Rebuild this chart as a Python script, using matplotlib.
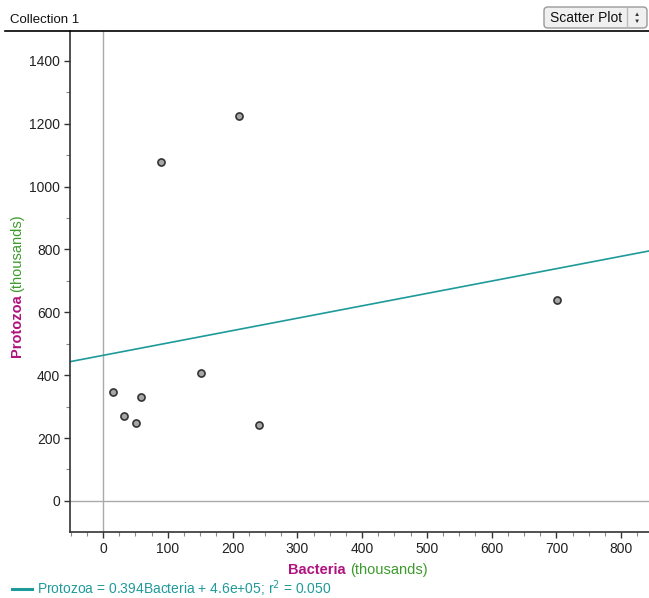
"""Protozoa vs Bacteria scatter with least-squares line (Fathom-style)."""

import matplotlib
matplotlib.use("Agg")
import matplotlib.pyplot as plt
from matplotlib.patches import FancyBboxPatch
from matplotlib.lines import Line2D
from matplotlib.ticker import MultipleLocator

plt.rcParams["font.family"] = ["Liberation Sans", "DejaVu Sans"]

# ── Data (thousands) ──────────────────────────────────────────────────
bacteria = [210, 90, 151, 16, 59, 32, 51, 241, 701]
protozoa = [1223, 1079, 407, 345, 332, 269, 248, 240, 640]

slope = 0.394
intercept = 463
line_label = "Protozoa = 0.394Bacteria + 4.6e+05; r$^2$ = 0.050"

TEAL = "#1f9a9a"
MAGENTA = "#b0137e"
GREEN = "#3c9b2c"

W, H = 649, 598
fig = plt.figure(figsize=(W / 100, H / 100), dpi=100)

# axes box in pixel coords: left 70, right 649, top 31, bottom 532
ax = fig.add_axes([70 / W, (H - 532) / H, (649 - 70) / W, (532 - 31) / H])
ax.set_xlim(-51, 843)
ax.set_ylim(-99, 1495)

ax.axvline(0, color="#aaaaaa", lw=1, zorder=1)
ax.axhline(0, color="#aaaaaa", lw=1, zorder=1)

xs = [-51, 843]
ax.plot(xs, [slope * x + intercept for x in xs], color=TEAL, lw=1.2, zorder=2)

ax.scatter(bacteria, protozoa, s=26, c="#a6a6a6", edgecolors="#333333",
           linewidths=1.2, zorder=3)

for side in ("top", "right"):
    ax.spines[side].set_visible(False)
for side in ("left", "bottom"):
    ax.spines[side].set_color("#333333")
    ax.spines[side].set_linewidth(1.2)

ax.xaxis.set_major_locator(MultipleLocator(100))
ax.xaxis.set_minor_locator(MultipleLocator(25))
ax.yaxis.set_major_locator(MultipleLocator(200))
ax.yaxis.set_minor_locator(MultipleLocator(100))
ax.tick_params(which="major", length=4, width=1, color="#333333",
               labelsize=10, labelcolor="#222222", pad=3)
ax.tick_params(which="minor", length=3, width=0.8, color="#888888")

# axis titles (two-colour)
fig.text(346 / W, 1 - 570 / H, "Bacteria", color=MAGENTA, fontsize=10.5,
         fontweight="bold", ha="right", va="center")
fig.text(350 / W, 1 - 570 / H, "(thousands)", color=GREEN, fontsize=10.5,
         ha="left", va="center")
fig.text(17 / W, 1 - 357 / H, "Protozoa", color=MAGENTA, fontsize=10.5,
         fontweight="bold", rotation=90, ha="center", va="bottom")
fig.text(17 / W, 1 - 292 / H, "(thousands)", color=GREEN, fontsize=10.5,
         rotation=90, ha="center", va="bottom")

# header
fig.add_artist(Line2D([5 / W, 1], [1 - 31 / H] * 2, color="black", lw=1.2))
fig.text(10 / W, 1 - 20 / H, "Collection 1", fontsize=9.5, color="#111111",
         va="center", ha="left")
btn = FancyBboxPatch((544 / W, 1 - 28 / H), 103 / W, 21 / H,
                     boxstyle="round,pad=0,rounding_size=0.006",
                     transform=fig.transFigure, facecolor="#f0f0f0",
                     edgecolor="#9a9a9a", lw=1)
fig.add_artist(btn)
fig.text(586 / W, 1 - 17.5 / H, "Scatter Plot", fontsize=10, color="#111111",
         ha="center", va="center")
fig.add_artist(Line2D([627 / W] * 2, [1 - 8 / H, 1 - 27 / H], color="#bbbbbb", lw=1))
fig.text(637 / W, 1 - 14 / H, "▲", fontsize=4.5, color="#333333", ha="center", va="center")
fig.text(637 / W, 1 - 21 / H, "▼", fontsize=4.5, color="#333333", ha="center", va="center")

# regression legend
fig.add_artist(Line2D([12 / W, 32 / W], [1 - 589 / H] * 2, color=TEAL, lw=2.2))
fig.text(37 / W, 1 - 594 / H, line_label, fontsize=10, color=TEAL,
         ha="left", va="baseline")

fig.savefig("out.png", dpi=100)
